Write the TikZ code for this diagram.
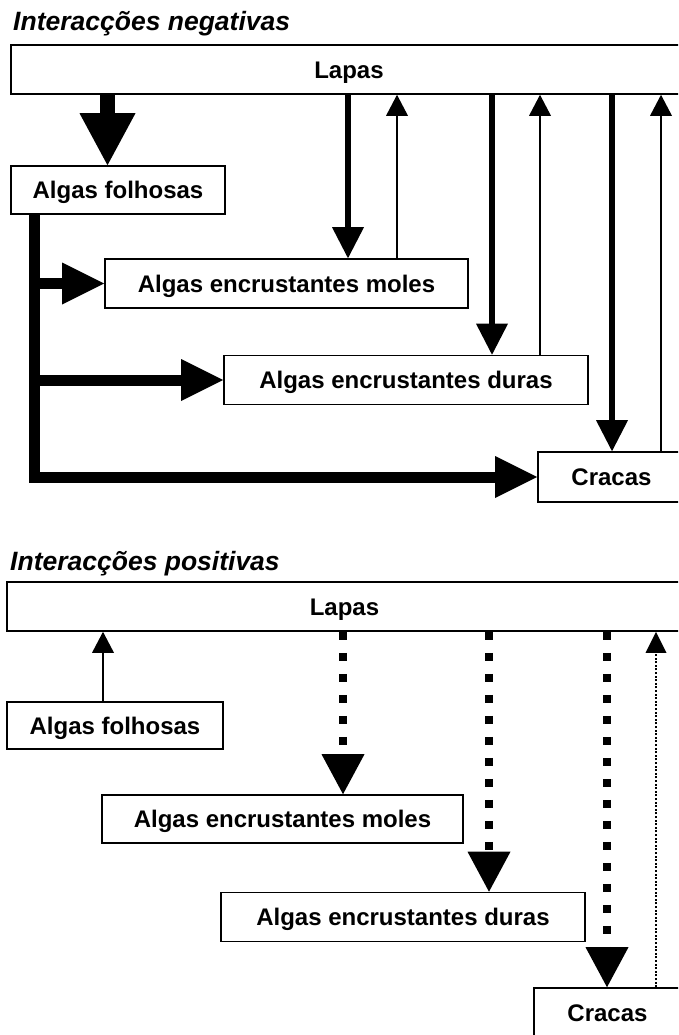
\documentclass[tikz,border=0pt]{standalone}
\usepackage{fontspec}
\setmainfont{Liberation Sans}
\usetikzlibrary{arrows.meta}
\begin{document}
\begin{tikzpicture}[x=1pt,y=-1pt,
  box/.style={draw, line width=1.6pt, inner sep=0pt, font=\fontsize{24}{28}\selectfont\bfseries, minimum height=49pt, text height=17.2pt, text depth=0pt},
  ttl/.style={anchor=base west, inner sep=0pt, font=\fontsize{26.5}{30}\selectfont\bfseries\itshape},
  big/.style={line width=15pt, -{Triangle[length=52pt,width=56pt,line width=0pt]}},
  fat/.style={line width=11pt, line join=miter},
  fathead/.style={-{Triangle[length=42pt,width=42pt,line width=0pt]}},
  down/.style={line width=6.5pt, -{Triangle[length=31pt,width=32pt,line width=0pt]}},
  up/.style={line width=2.4pt, -{Triangle[length=21pt,width=22pt,line width=0pt]}},
  dsh/.style={line width=8.5pt, dash pattern=on 8.5pt off 12.5pt, -{Triangle[length=40pt,width=43pt,line width=0pt]}},
  dot/.style={line width=2.6pt, dash pattern=on 2pt off 1.6pt, -{Triangle[length=21pt,width=21pt,line width=0pt]}}
]
\useasboundingbox (0,0) rectangle (678,1035);
\clip (0,0) rectangle (678,1035);
\fill[white] (0,0) rectangle (678,1035);

% ---- Interaccoes negativas ----
\node[ttl] (t1) at (13,31) {Interacções negativas};
\node[box, minimum width=676pt] (lapasA) at (349,69.5) {Lapas};
\node[box, minimum width=214pt, minimum height=48pt] (folA) at (118,190) {Algas folhosas};
\node[box, minimum width=363pt] (molA) at (286.5,283.5) {Algas encrustantes moles};
\node[box, minimum width=364pt] (durA) at (406,380) {Algas encrustantes duras};
\node[box, minimum width=147pt, minimum height=50pt] (craA) at (611.5,477) {Cracas};

\draw[big] (107.5,0 |- lapasA.south) -- (107.5,0 |- folA.north);
\draw[down] (348,0 |- lapasA.south) -- (348,0 |- molA.north);
\draw[up] (397,0 |- molA.north) -- (397,0 |- lapasA.south);
\draw[down] (492,0 |- lapasA.south) -- (492,0 |- durA.north);
\draw[up] (540,0 |- durA.north) -- (540,0 |- lapasA.south);
\draw[down] (612,0 |- lapasA.south) -- (612,0 |- craA.north);
\draw[up] (661,0 |- craA.north) -- (661,0 |- lapasA.south);
\draw[fat, fathead] (34,0 |- folA.south) |- (craA.west);
\draw[fat, fathead] (34,0 |- molA.west) -- (molA.west);
\draw[fat, fathead] (34,0 |- durA.west) -- (durA.west);

% ---- Interaccoes positivas ----
\node[ttl] (t2) at (10,570) {Interacções positivas};
\node[box, minimum width=675pt] (lapasB) at (344.5,606.5) {Lapas};
\node[box, minimum width=216pt, minimum height=47pt] (folB) at (115,725.5) {Algas folhosas};
\node[box, minimum width=361pt, minimum height=48pt] (molB) at (282.5,819) {Algas encrustantes moles};
\node[box, minimum width=364pt] (durB) at (403,917) {Algas encrustantes duras};
\node[box, minimum width=147pt, minimum height=50pt] (craB) at (607.5,1013) {Cracas};

\draw[up] (103,0 |- folB.north) -- (103,0 |- lapasB.south);
\draw[dsh] (343,0 |- lapasB.south) -- (343,0 |- molB.north);
\draw[dsh] (489,0 |- lapasB.south) -- (489,0 |- durB.north);
\draw[dsh] (607,0 |- lapasB.south) -- (607,0 |- craB.north);
\draw[dot] (656,0 |- craB.north) -- (656,0 |- lapasB.south);
\end{tikzpicture}
\end{document}
